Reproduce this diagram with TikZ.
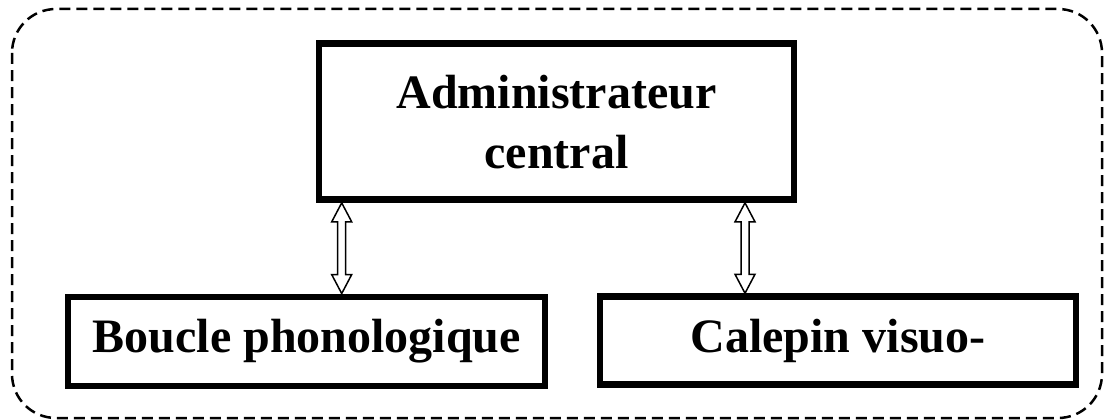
\documentclass[tikz,border=0pt]{standalone}
\usepackage{fontspec}
\setmainfont{Liberation Serif}
\usetikzlibrary{calc}
\begin{document}
\begin{tikzpicture}[x=1pt,y=-1pt,
  box/.style={draw, line width=6.5pt, fill=white, align=center,
    font=\fontsize{48}{60}\selectfont\bfseries, inner sep=0pt},
  frame/.style={draw, line width=2.5pt, dash pattern=on 11pt off 6pt,
    rounded corners=44pt},
  hollowarrow/.style={line width=1.5pt, fill=white, line join=miter,
    to path={let \p1=(\tikztostart), \p2=(\tikztotarget) in
      (\x1,\y1) -- (\x1+10pt,\y1-19pt) -- (\x1+4pt,\y1-19pt)
      -- (\x1+4pt,\y2+19pt) -- (\x1+10pt,\y2+19pt) -- (\x1,\y2)
      -- (\x1-10pt,\y2+19pt) -- (\x1-4pt,\y2+19pt)
      -- (\x1-4pt,\y1-19pt) -- (\x1-10pt,\y1-19pt) -- cycle}}]
\useasboundingbox (0,0) rectangle (1105,420);

% dashed outline round the whole model
\draw[frame] (12,9) rectangle (1102,418);

% components
\node[box, minimum width=475pt, minimum height=156pt] (admin) at (556.5,121.6)
  {Administrateur\\central};
\node[box, minimum width=477pt, minimum height=89pt] (boucle) at (306.7,341.3)
  {Boucle phonologique};
\node[box, minimum width=476pt, minimum height=88pt] (calepin) at (838,340.5)
  {Calepin visuo-};

% two-way links
\coordinate (la) at (341.7,0);
\coordinate (ra) at (745,0);
\draw[hollowarrow] (admin.south -| la) to (boucle.north -| la);
\draw[hollowarrow] (admin.south -| ra) to (calepin.north -| ra);
\end{tikzpicture}
\end{document}
